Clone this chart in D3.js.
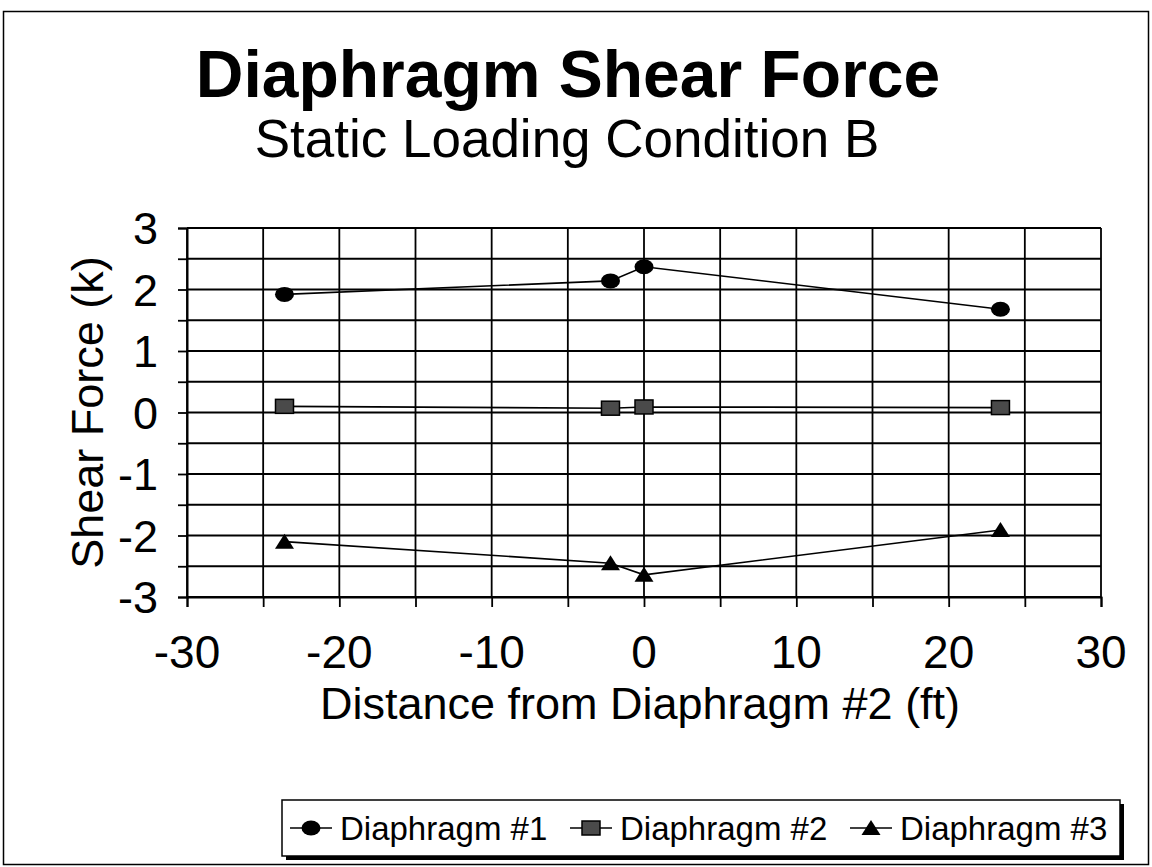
<!DOCTYPE html>
<html>
<head>
<meta charset="utf-8">
<script src="https://cdn.jsdelivr.net/npm/d3@7"></script>
<style>
  html, body { margin: 0; padding: 0; background: #fff; }
  svg { display: block; }
  text { font-family: "Liberation Sans", Arial, Helvetica, sans-serif; fill: #000; }
</style>
</head>
<body>
<svg id="chart" width="1152" height="867"></svg>
<script>
// Distances of the measurement points from Diaphragm #2 (ft)
const distances = [-23.6, -2.2, 0, 23.4];
// Shear force in each diaphragm (kips)
const diaphragm1 = [1.92, 2.14, 2.37, 1.68];
const diaphragm2 = [0.10, 0.07, 0.09, 0.08];
const diaphragm3 = [-2.10, -2.45, -2.64, -1.91];
const seriesNames = ["Diaphragm #1", "Diaphragm #2", "Diaphragm #3"];
const seriesMarkers = ["circle", "square", "triangle"];
const xTickLabels = [-30, -20, -10, 0, 10, 20, 30];
const yTickLabels = [-3, -2, -1, 0, 1, 2, 3];

const titleText = "Diaphragm Shear Force";
const subtitleText = "Static Loading Condition B";
const xTitle = "Distance from Diaphragm #2 (ft)";
const yTitle = "Shear Force (k)";

const svg = d3.select("#chart");
const W = 1152, H = 867;
const plot = { left: 187, right: 1101, top: 228, bottom: 597 };

// outer frame
svg.append("rect")
  .attr("x", 3.5).attr("y", 11.5)
  .attr("width", W - 7).attr("height", H - 14)
  .attr("fill", "none").attr("stroke", "#000").attr("stroke-width", 1.5);

// titles
svg.append("text").attr("x", 568).attr("y", 97)
  .attr("text-anchor", "middle").attr("font-size", 66).attr("font-weight", "bold")
  .text(titleText);
svg.append("text").attr("x", 567).attr("y", 157)
  .attr("text-anchor", "middle").attr("font-size", 53)
  .text(subtitleText);

const x = d3.scaleLinear().domain([-30, 30]).range([plot.left, plot.right]);
const y = d3.scaleLinear().domain([-3, 3]).range([plot.bottom, plot.top]);

// gridlines: every 0.5 k horizontally, every 5 ft vertically
const g = svg.append("g");
const yGrid = d3.range(-3, 3.001, 0.5);
const xGrid = d3.range(-30, 30.001, 5);
g.selectAll("line.hg").data(yGrid).join("line")
  .attr("x1", x(-30)).attr("x2", x(30))
  .attr("y1", d => y(d)).attr("y2", d => y(d))
  .attr("stroke", "#000").attr("stroke-width", 1.8);
g.selectAll("line.vg").data(xGrid).join("line")
  .attr("y1", y(-3)).attr("y2", y(3))
  .attr("x1", d => x(d)).attr("x2", d => x(d))
  .attr("stroke", "#000").attr("stroke-width", 1.8);

// axes
const yAxis = d3.axisLeft(y).tickValues(yGrid).tickSize(9).tickPadding(0)
  .tickFormat(() => "");
const yAx = svg.append("g").attr("transform", `translate(${plot.left},0)`).call(yAxis);
const xAxis = d3.axisBottom(x).tickValues(xGrid).tickSize(10).tickFormat(() => "");
const xAx = svg.append("g").attr("transform", `translate(0,${plot.bottom})`).call(xAxis);
[yAx, xAx].forEach(a => {
  a.selectAll("path").attr("stroke", "#000").attr("stroke-width", 2);
  a.selectAll("line").attr("stroke", "#000").attr("stroke-width", 1.8);
});

// tick labels
svg.append("g").selectAll("text").data(yTickLabels).join("text")
  .attr("x", 158).attr("y", d => y(d)).attr("dy", "0.36em")
  .attr("text-anchor", "end").attr("font-size", 45)
  .text(d => d);
svg.append("g").selectAll("text").data(xTickLabels).join("text")
  .attr("x", d => x(d)).attr("y", 668)
  .attr("text-anchor", "middle").attr("font-size", 46)
  .text(d => d);

// axis titles
svg.append("text").attr("x", 640).attr("y", 719)
  .attr("text-anchor", "middle").attr("font-size", 45).text(xTitle);
svg.append("text")
  .attr("transform", `translate(103,${(plot.top + plot.bottom) / 2}) rotate(-90)`)
  .attr("text-anchor", "middle").attr("font-size", 45).text(yTitle);

// markers
function drawMarker(sel, type, cx, cy) {
  if (type === "circle") {
    sel.append("ellipse").attr("cx", cx).attr("cy", cy).attr("rx", 9.5).attr("ry", 7.5)
      .attr("fill", "#000");
  } else if (type === "square") {
    sel.append("rect").attr("x", cx - 9).attr("y", cy - 7).attr("width", 18).attr("height", 14)
      .attr("fill", "#4a4a4a").attr("stroke", "#000").attr("stroke-width", 1.5);
  } else {
    sel.append("path")
      .attr("d", `M${cx},${cy - 8}L${cx + 9.5},${cy + 7}L${cx - 9.5},${cy + 7}Z`)
      .attr("fill", "#000");
  }
}

const allSeries = [diaphragm1, diaphragm2, diaphragm3];
const line = d3.line().x(d => x(d[0])).y(d => y(d[1]));
allSeries.forEach((vals, i) => {
  const pts = distances.map((d, j) => [d, vals[j]]);
  const sg = svg.append("g");
  sg.append("path").attr("d", line(pts))
    .attr("fill", "none").attr("stroke", "#000").attr("stroke-width", 1.6);
  pts.forEach(p => drawMarker(sg, seriesMarkers[i], x(p[0]), y(p[1])));
});

// legend
const lg = svg.append("g");
const box = { x: 282, y: 800, w: 838, h: 56 };
lg.append("rect").attr("x", box.x + 4).attr("y", box.y + 4)
  .attr("width", box.w).attr("height", box.h).attr("fill", "#000");
lg.append("rect").attr("x", box.x).attr("y", box.y)
  .attr("width", box.w).attr("height", box.h)
  .attr("fill", "#fff").attr("stroke", "#000").attr("stroke-width", 1.5);
const itemX = [290, 570, 850];
seriesNames.forEach((name, i) => {
  const cx = itemX[i];
  const cyL = box.y + box.h / 2;
  lg.append("line").attr("x1", cx).attr("x2", cx + 42)
    .attr("y1", cyL).attr("y2", cyL).attr("stroke", "#000").attr("stroke-width", 1.6);
  drawMarker(lg, seriesMarkers[i], cx + 21, cyL);
  lg.append("text").attr("x", cx + 50).attr("y", cyL).attr("dy", "0.36em")
    .attr("font-size", 33).text(name);
});
</script>
</body>
</html>
